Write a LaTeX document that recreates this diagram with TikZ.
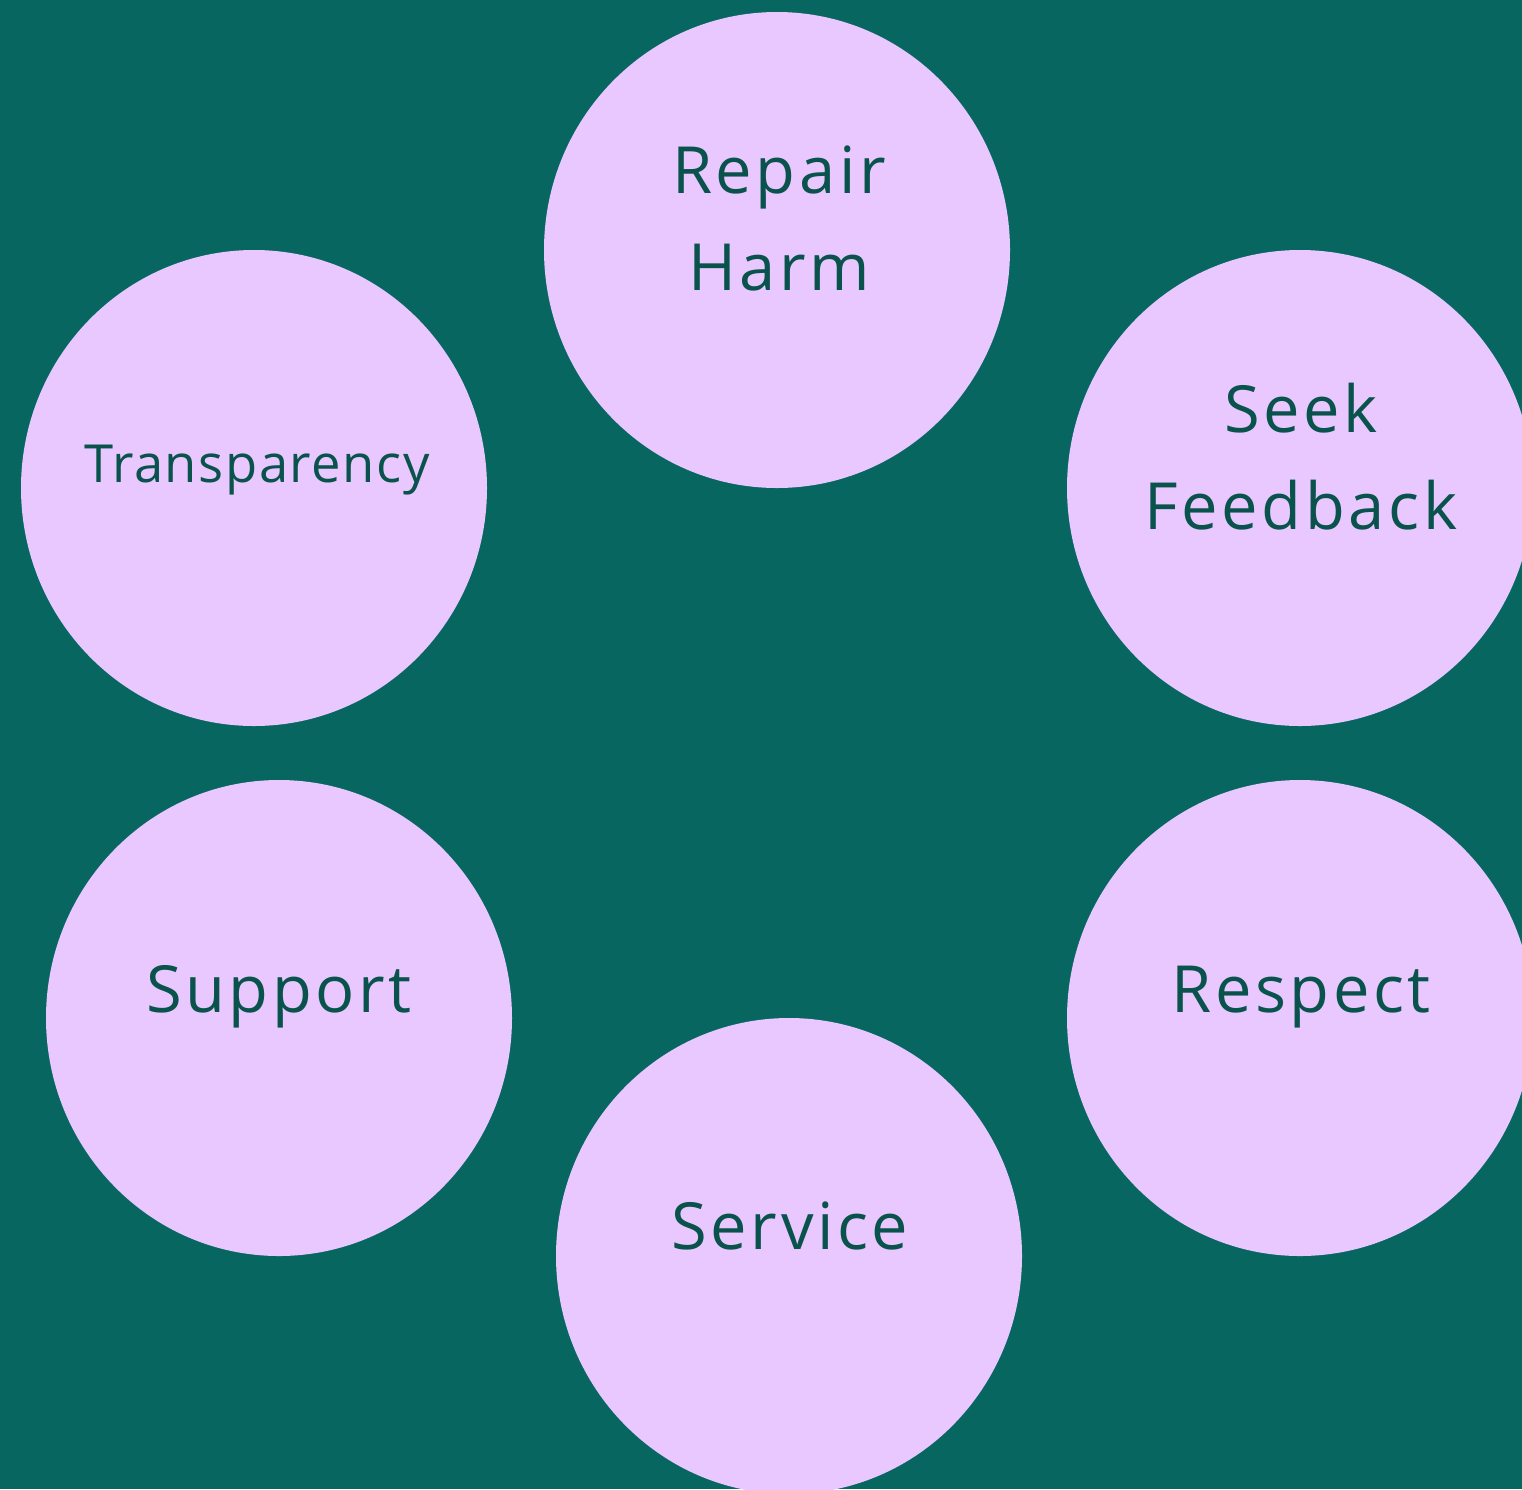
\documentclass[tikz,border=0pt]{standalone}
\usepackage{fontspec}
\setmainfont{Open Sans}
\newfontfamily\bigfont{Open Sans}[LetterSpace=5.5]
\newfontfamily\smallfont{Open Sans}[LetterSpace=3]
\definecolor{bgteal}{HTML}{086660}
\definecolor{lav}{HTML}{E8C8FF}
\definecolor{txt}{HTML}{0A524C}
\tikzset{
  bubble/.style={fill=lav, draw=none},
  lbl/.style={anchor=base, inner sep=0pt, text=txt, font=\bigfont\fontsize{65}{65}\selectfont},
  lblsmall/.style={anchor=base, inner sep=0pt, text=txt, font=\smallfont\fontsize{52.5}{52.5}\selectfont},
}
\begin{document}
\begin{tikzpicture}[x=1pt,y=-1pt]
\path[use as bounding box, fill=bgteal] (0,0) rectangle (1522,1489);
\begin{scope}
\clip (0,0) rectangle (1522,1489);
\fill[bubble] (777,250) ellipse [x radius=233, y radius=238];
\fill[bubble] (254,488) ellipse [x radius=233, y radius=238];
\fill[bubble] (1300,488) ellipse [x radius=233, y radius=238];
\fill[bubble] (279,1018) ellipse [x radius=233, y radius=238];
\fill[bubble] (1300,1018) ellipse [x radius=233, y radius=238];
\fill[bubble] (789,1256) ellipse [x radius=233, y radius=238];
\end{scope}
\node[lbl] (repair) at (779,193) {Repair};
\node[lbl] (harm) at (779,290) {Harm};
\node[lblsmall] (transp) at (257,482) {Transparency};
\node[lbl] (seek) at (1301,432) {Seek};
\node[lbl] (feedback) at (1301,529) {Feedback};
\node[lbl] (support) at (279,1012) {Support};
\node[lbl] (respect) at (1301,1012) {Respect};
\node[lbl] (service) at (790,1249) {Service};
\end{tikzpicture}
\end{document}
